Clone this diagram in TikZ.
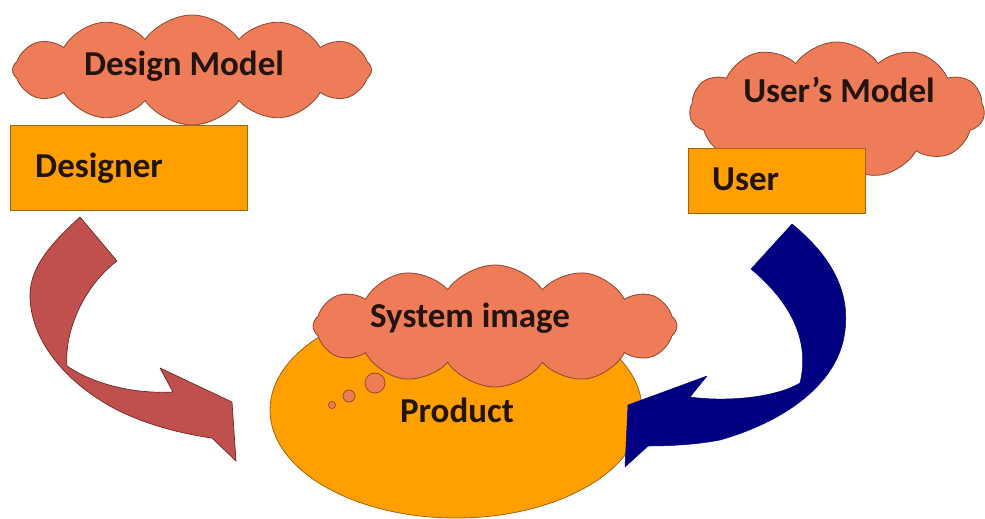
\documentclass[tikz,border=0pt]{standalone}
\usepackage{fontspec}
\setmainfont{Carlito}
\usetikzlibrary{shapes.symbols,shapes.geometric}
\definecolor{coral}{RGB}{238,124,88}
\definecolor{coralline}{RGB}{140,70,45}
\definecolor{prodorange}{RGB}{255,160,0}
\definecolor{orangeline}{RGB}{160,100,20}
\definecolor{arrowred}{RGB}{192,80,77}
\definecolor{arrowredline}{RGB}{110,40,40}
\definecolor{navyarrow}{RGB}{0,0,128}
\definecolor{txt}{RGB}{35,20,15}
\tikzset{
  thought/.style={cloud, cloud puffs=12, cloud puff arc=110, fill=coral, draw=coralline, line width=0.8pt, inner sep=0pt},
  actorbox/.style={rectangle, fill=prodorange, draw=orangeline, line width=0.8pt, inner sep=0pt},
  lbl/.style={font=\fontsize{35}{40}\selectfont\bfseries, text=txt, inner sep=0pt},
  bubble/.style={circle, fill=coral, draw=coralline, line width=0.7pt, inner sep=0pt},
}
\begin{document}
\begin{tikzpicture}[x=1pt,y=-1pt]
\useasboundingbox (0,0) rectangle (985,519);
% designer side
\node[thought, minimum width=359pt, minimum height=110pt] (dmcloud) at (192,70) {};
\node[actorbox, minimum width=237pt, minimum height=85pt] (designer) at (128.5,167.5) {};
\node[lbl, anchor=base] (dmtext) at (184,75) {Design Model};
\node[lbl, anchor=base west] (designertext) at (35,177) {Designer};
% user side
\node[thought, cloud puffs=11, minimum width=295pt, minimum height=136pt] (umcloud) at (837,110) {};
\node[actorbox, minimum width=177pt, minimum height=65pt] (user) at (776.5,180.5) {};
\node[lbl, anchor=base] (umtext) at (839,102) {User’s Model};
\node[lbl, anchor=base west] (usertext) at (712,190) {User};
% product
\node[ellipse, fill=prodorange, draw=orangeline, line width=0.8pt, minimum width=372pt, minimum height=216pt] (product) at (456,410) {};
% left arrow
\draw[fill=arrowred, draw=arrowredline, line width=0.7pt, line join=round]
  (80,217) .. controls (55,240) and (30,265) .. (30,295)
  .. controls (30,340) and (65,378) .. (100,400)
  .. controls (130,420) and (175,433) .. (212,438)
  -- (236,461) -- (232,402) -- (160,368) -- (173,392)
  .. controls (135,394) and (95,385) .. (67,366)
  .. controls (64,330) and (85,285) .. (117,261) -- cycle;
% right arrow
\draw[fill=navyarrow, draw=navyarrow, line width=0.5pt, line join=round]
  (792,224) .. controls (830,255) and (850,290) .. (845,330)
  .. controls (840,380) and (790,420) .. (720,440)
  .. controls (695,445) and (665,446) .. (648,446)
  -- (625,467) -- (628,405) -- (707,376) -- (690,397)
  .. controls (725,402) and (775,398) .. (800,383)
  .. controls (808,350) and (800,310) .. (751,269) -- cycle;
% thought bubbles
\node[bubble, minimum size=20pt] (b1) at (375,383) {};
\node[bubble, minimum size=12pt] (b2) at (349,396) {};
\node[bubble, minimum size=7pt] (b3) at (332,405) {};
\node[thought, minimum width=364pt, minimum height=122pt] (sicloud) at (495,326) {};
\node[lbl, anchor=base] (sitext) at (470,327) {System image};
\node[lbl, anchor=base] (prodtext) at (457,422) {Product};
\end{tikzpicture}
\end{document}
